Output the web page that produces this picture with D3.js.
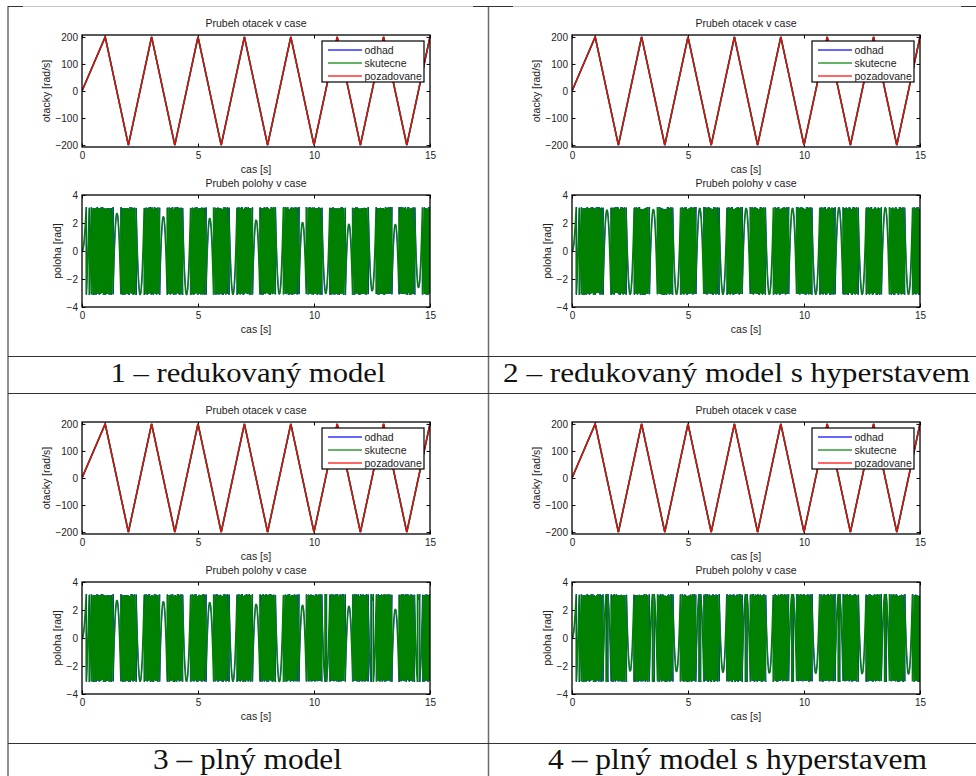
<!DOCTYPE html>
<html><head><meta charset="utf-8">
<script src="https://cdn.jsdelivr.net/npm/d3@7"></script>
<style>
body{margin:0;background:#fff}
svg{display:block}
text{font-family:"Liberation Sans",Arial,sans-serif;fill:#222}
</style>
</head><body>
<svg id="c" width="976" height="776"></svg>
<script>
// ---------------- data ----------------
const timeTicks = [0, 5, 10, 15];
const speedTicks = [-200, -100, 0, 100, 200];
const posTicks = [-4, -2, 0, 2, 4];
const timeDomain = [0, 15];
const speedDomain = [-207, 207];
const posDomain = [-4, 4];

const speedTimes    = [0, 1, 2, 3, 4, 5, 6, 7, 8, 9, 10, 11, 12, 13, 14, 15];
const speedRequired = [0, 200, -200, 200, -200, 200, -200, 200, -200, 200, -200, 200, -200, 200, -200, 200];
const speedActual   = [0, 200, -200, 200, -200, 200, -200, 200, -200, 200, -200, 200, -200, 200, -200, 200];
const speedEstimate = [0, 200, -200, 200, -200, 200, -200, 200, -200, 200, -200, 200, -200, 200, -200, 200];

// position extrema (rad) read at the zero crossings of the speed
const extremaTimes = [1.5, 2.5, 3.5, 4.5, 5.5, 6.5, 7.5, 8.5, 9.5, 10.5, 11.5, 12.5, 13.5, 14.5];
const posExtrema1 = [2.69, -3.12, 2.45, -3.12, 2.33, -3.10, 2.21, -3.08, 2.04, -3.04, 1.92, -2.85, 1.90, -2.61];
const posExtrema2 = [2.93, -3.10, 2.97, -3.10, 3.05, -3.10, 3.05, -3.10, 3.05, -3.10, 3.10, -3.10, 3.10, -3.10];
const posExtrema3 = [2.69, -3.10, 2.60, -3.10, 2.53, -3.10, 2.41, -3.12, 2.34, 2.98, 2.27, 2.69, 2.05, 2.74];
const posExtrema4 = [-2.90, -2.36, -2.90, -2.40, -2.92, -2.45, -2.92, -2.50, -2.95, -2.52, -2.95, -2.55, -2.95, -2.58];
const estimateLag = 0.02; // s, odhad trails skutecne slightly

const legendLabels = ["odhad", "skutecne", "pozadovane"];
const seriesColors = ["#0000ff", "#008000", "#ff0000"];
const speedTitle = "Prubeh otacek v case";
const posTitle = "Prubeh polohy v case";
const speedLabel = "otacky [rad/s]";
const posLabel = "poloha [rad]";
const timeLabel = "cas [s]";
const captionTexts = ["1 – redukovaný model", "2 – redukovaný model s hyperstavem", "3 – plný model", "4 – plný model s hyperstavem"];

// ---------------- helpers ----------------
function integrator(times, vals) {
  const C = [0];
  for (let i = 1; i < times.length; i++) C.push(C[i-1] + (vals[i-1] + vals[i]) / 2 * (times[i] - times[i-1]));
  return t => {
    let i = d3.bisectRight(times, t) - 1;
    i = Math.max(0, Math.min(i, times.length - 2));
    const f = t - times[i];
    const vt = vals[i] + (vals[i+1] - vals[i]) * f / (times[i+1] - times[i]);
    return C[i] + (vals[i] + vt) / 2 * f;
  };
}
function positionSeries(times, vals, exT, exV, step, lag) {
  const I = integrator(times, vals);
  const exI = exT.map(I);
  const pts = [];
  const n = Math.round((times[times.length-1] - times[0]) / step);
  const TWO_PI = 2 * Math.PI;
  for (let k = 0; k <= n; k++) {
    const t = times[0] + k * step;
    let th;
    if (t < exT[0] - 0.5) th = I(t);
    else {
      const j = d3.minIndex(exT, e => Math.abs(e - t));
      th = exV[j] + I(t) - exI[j];
    }
    th = th - TWO_PI * Math.round(th / TWO_PI);
    pts.push([t + lag, th]);
  }
  return pts;
}

// ---------------- layout ----------------
const svg = d3.select("#c");
const panelOffsets = [[0, 0], [490, 0], [0, 387], [490, 387]];
const posExtrema = [posExtrema1, posExtrema2, posExtrema3, posExtrema4];
const axL = 82, axR = 430;
const topAx = [35, 147], botAx = [195, 307];

// table lines
const tbl = svg.append("g");
[8, 488.5].forEach(x => tbl.append("line").attr("x1", x).attr("x2", x).attr("y1", 6).attr("y2", 776)
  .attr("stroke", "#6a6a6a").attr("stroke-width", 1.5));
[6, 356, 393, 743].forEach(y => tbl.append("line").attr("x1", 8).attr("x2", 976).attr("y1", y + 0.5).attr("y2", y + 0.5)
  .attr("stroke", "#333").attr("stroke-width", 1));
[[23, 473], [513, 961]].forEach(([a, b]) => {
  tbl.append("line").attr("x1", a).attr("x2", b).attr("y1", 6.5).attr("y2", 6.5).attr("stroke", "#c4c4c4");
});

const captionPos = [[248, 382, 275, 27], [736.5, 382, 467, 27], [247.5, 769, 189, 30], [737.5, 769, 379, 30]];
captionTexts.forEach((c, i) => {
  const [x, y, len, fsz] = captionPos[i];
  svg.append("text").attr("x", x).attr("y", y).attr("text-anchor", "middle")
    .attr("textLength", len).attr("lengthAdjust", "spacingAndGlyphs")
    .style("font-family", "'Liberation Serif','Times New Roman',serif").style("font-size", fsz + "px").style("fill", "#111")
    .text(c);
});

function drawAxes(g, id, xs, ys, yTicks, yLabel, title, yLabelX) {
  const [x0, x1] = xs.range(), [yb, yt] = ys.range();
  g.append("clipPath").attr("id", id).append("rect").attr("x", x0).attr("y", yt).attr("width", x1 - x0).attr("height", yb - yt);
  const fs = "10px";
  const ax = g.append("g").attr("transform", `translate(0,${yb})`)
    .call(d3.axisBottom(xs).tickValues(timeTicks).tickSize(-3.5).tickPadding(5));
  const axT = g.append("g").attr("transform", `translate(0,${yt})`)
    .call(d3.axisTop(xs).tickValues(timeTicks).tickSize(-3.5).tickFormat(""));
  const ay = g.append("g").attr("transform", `translate(${x0},0)`)
    .call(d3.axisLeft(ys).tickValues(yTicks).tickSize(-3.5).tickPadding(4));
  const ayR = g.append("g").attr("transform", `translate(${x1},0)`)
    .call(d3.axisRight(ys).tickValues(yTicks).tickSize(-3.5).tickFormat(""));
  [ax, axT, ay, ayR].forEach(a => {
    a.select(".domain").remove();
    a.selectAll("line").attr("stroke", "#000").attr("stroke-width", 1);
    a.selectAll("text").style("font-size", fs).style("font-family", "'Liberation Sans',Arial,sans-serif").attr("fill", "#222");
  });
  g.append("text").attr("x", (x0 + x1) / 2).attr("y", yt - 8).attr("text-anchor", "middle").style("font-size", "10.5px").text(title);
  g.append("text").attr("x", (x0 + x1) / 2).attr("y", yb + 25.5).attr("text-anchor", "middle").style("font-size", "10.5px").text(timeLabel);
  g.append("text").attr("transform", `translate(${yLabelX},${(yt + yb) / 2}) rotate(-90)`).attr("text-anchor", "middle")
    .style("font-size", "10.5px").text(yLabel);
}
function drawBox(g, xs, ys) {
  const [x0, x1] = xs.range(), [yb, yt] = ys.range();
  g.append("rect").attr("x", x0).attr("y", yt).attr("width", x1 - x0).attr("height", yb - yt)
    .attr("fill", "none").attr("stroke", "#000").attr("stroke-width", 1.3);
}

panelOffsets.forEach(([dx, dy], p) => {
  const g = svg.append("g").attr("transform", `translate(${dx},${dy})`);
  const x = d3.scaleLinear().domain(timeDomain).range([axL, axR]);
  // ---- speed axes ----
  const yS = d3.scaleLinear().domain(speedDomain).range([topAx[1], topAx[0]]);
  drawAxes(g, `cs${p}`, x, yS, speedTicks, speedLabel, speedTitle, axL - 32);
  const lineS = d3.line().x((d, i) => x(speedTimes[i])).y(d => yS(d));
  const sg = g.append("g").attr("clip-path", `url(#cs${p})`);
  [[speedEstimate, 0, 1.6], [speedActual, 1, 1.6], [speedRequired, 2, 1.2]].forEach(([vals, ci, w]) => {
    sg.append("path").datum(vals).attr("d", lineS).attr("fill", "none").attr("stroke", seriesColors[ci])
      .attr("stroke-width", w).attr("stroke-linejoin", "miter");
  });
  drawBox(g, x, yS);
  // legend
  const lg = g.append("g");
  lg.append("rect").attr("x", 322).attr("y", 41).attr("width", 102).attr("height", 41)
    .attr("fill", "#fff").attr("stroke", "#000").attr("stroke-width", 1.2);
  legendLabels.forEach((lab, i) => {
    const yy = 50 + i * 13;
    lg.append("line").attr("x1", 328).attr("x2", 362).attr("y1", yy).attr("y2", yy)
      .attr("stroke", seriesColors[i]).attr("stroke-width", 1.3).attr("stroke-opacity", 0.8);
    lg.append("text").attr("x", 364.5).attr("y", yy + 3.8).style("font-size", "10.5px").text(lab);
  });
  // ---- position axes ----
  const yP = d3.scaleLinear().domain(posDomain).range([botAx[1], botAx[0]]);
  drawAxes(g, `cp${p}`, x, yP, posTicks, posLabel, posTitle, axL - 21);
  const pg = g.append("g").attr("clip-path", `url(#cp${p})`);
  const lineP = d3.line().x(d => x(d[0])).y(d => yP(d[1]));
  const est = positionSeries(speedTimes, speedEstimate, extremaTimes, posExtrema[p], 0.001, estimateLag);
  const act = positionSeries(speedTimes, speedActual, extremaTimes, posExtrema[p], 0.001, 0);
  pg.append("path").datum(est).attr("d", lineP).attr("fill", "none").attr("stroke", seriesColors[0]).attr("stroke-width", 1);
  pg.append("path").datum(act).attr("d", lineP).attr("fill", "none").attr("stroke", seriesColors[1]).attr("stroke-width", 1.4);
  drawBox(g, x, yP);
});
</script>
</body></html>
